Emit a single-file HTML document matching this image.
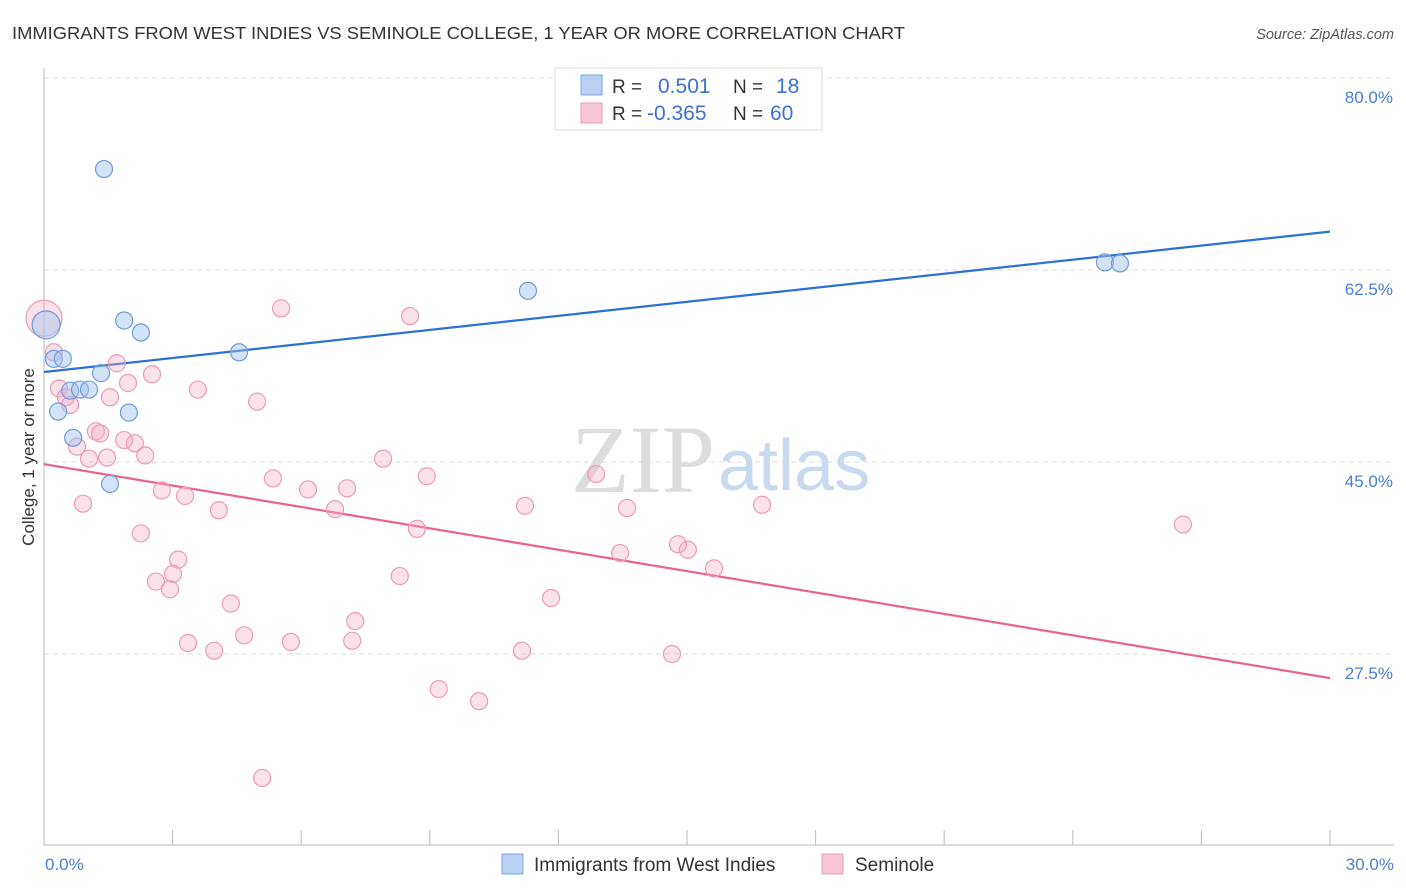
<!DOCTYPE html>
<html><head><meta charset="utf-8"><style>
body{margin:0;background:#fff;font-family:"Liberation Sans",sans-serif;}
svg{display:block}
</style></head><body>
<svg id="chart" width="1406" height="892" font-family="Liberation Sans, sans-serif">
<text x="12" y="39" font-size="17.5" fill="#333" textLength="893" lengthAdjust="spacingAndGlyphs">IMMIGRANTS FROM WEST INDIES VS SEMINOLE COLLEGE, 1 YEAR OR MORE CORRELATION CHART</text>
<text x="1394" y="39" font-size="14.5" fill="#555" font-style="italic" text-anchor="end">Source: ZipAtlas.com</text>
<g id="grid"></g>
<text x="715" y="492" font-size="96" fill="#ddd" font-family="Liberation Serif, serif" text-anchor="end">ZIP</text>
<text x="718" y="490" font-size="72" fill="#c9daf0">atlas</text>
<line x1="44" y1="68" x2="44" y2="845" stroke="#bbb"/>
<line x1="44" y1="845" x2="1394" y2="845" stroke="#bbb"/>
<g id="ticks"></g>
<g id="lines"></g>
<g id="points"></g>
<text transform="translate(34,457) rotate(-90)" font-size="17" fill="#333" text-anchor="middle">College, 1 year or more</text>
<text x="45" y="870" font-size="17" fill="#4a7fd4">0.0%</text>
<text x="1394" y="870" font-size="17" fill="#4a7fd4" text-anchor="end">30.0%</text>
<g>
<rect x="555" y="68" width="267" height="62" fill="#fff" stroke="#ddd"/>
<rect x="581" y="75" width="21" height="20" fill="#b8d1f3" stroke="#7ea7e0"/>
<rect x="581" y="103" width="21" height="20" fill="#f8c6d6" stroke="#ee9ab6"/>
<text x="612" y="93" font-size="19" fill="#333">R = </text><text x="658" y="93" font-size="21" fill="#3a73d1">0.501</text>
<text x="733" y="93" font-size="19" fill="#333">N = </text><text x="776" y="93" font-size="21" fill="#3a73d1">18</text>
<text x="612" y="120" font-size="19" fill="#333">R = </text><text x="647" y="120" font-size="21" fill="#3a73d1">-0.365</text>
<text x="733" y="120" font-size="19" fill="#333">N = </text><text x="770" y="120" font-size="21" fill="#3a73d1">60</text>
</g>
<g>
<rect x="502" y="854" width="21" height="20" fill="#b8d1f3" stroke="#7ea7e0"/>
<text x="534" y="871" font-size="19" fill="#333">Immigrants from West Indies</text>
<rect x="822" y="854" width="21" height="20" fill="#f8c6d6" stroke="#ee9ab6"/>
<text x="855" y="871" font-size="19" fill="#333">Seminole</text>
</g>
</svg>
<script>
const yTicks=[80,62.5,45,27.5];
const yTickLabels=["80.0%","62.5%","45.0%","27.5%"];
const xTicks=[0,3,6,9,12,15,18,21,24,27,30];
const blueX=[1.40,11.29,24.75,25.10,1.87,2.26,0.05,4.55,0.23,0.44,1.33,0.61,0.84,1.05,0.33,1.98,0.68,1.54];
const blueY=[71.7,60.6,63.2,63.1,57.9,56.8,57.5,55.0,54.4,54.4,53.1,51.5,51.6,51.6,49.6,49.5,47.2,43.0];
const pinkX=[0,0.23,0.35,0.51,0.61,1.70,1.96,1.54,2.52,3.59,4.97,5.53,8.54,1.21,1.31,1.87,2.12,0.77,1.05,1.47,2.36,2.75,3.29,4.08,0.91,2.26,3.13,3.01,2.61,2.94,4.36,3.36,3.97,4.67,5.76,7.26,7.19,5.34,6.16,7.07,6.79,7.91,8.93,8.70,8.30,9.21,10.15,5.09,11.22,11.83,11.15,12.88,13.60,13.44,14.79,15.02,15.63,14.65,16.75,26.57];
const pinkY=[58.1,55.0,51.7,50.9,50.2,54.0,52.2,50.9,53.0,51.6,50.5,59.0,58.3,47.8,47.6,47.0,46.7,46.4,45.3,45.4,45.6,42.4,41.9,40.6,41.2,38.5,36.1,34.8,34.1,33.4,32.1,28.5,27.8,29.2,28.6,30.5,28.7,43.5,42.5,42.6,40.7,45.3,43.7,38.9,34.6,24.3,23.2,16.2,41.0,32.6,27.8,43.9,40.8,36.7,37.5,37.0,35.3,27.5,41.1,39.3];
const blueTrend=[53.2,66.0];
const pinkTrend=[44.8,25.3];
const NS="http://www.w3.org/2000/svg";
const sx=v=>44+v/30*1286;
const sy=v=>78+(80-v)*10.971;
function mk(t,a,p){const e=document.createElementNS(NS,t);for(const k in a)e.setAttribute(k,a[k]);p.appendChild(e);return e;}
const grid=document.getElementById('grid');
yTicks.forEach((v,i)=>{
 const l=mk('line',{x1:44,x2:1394,y1:sy(v),y2:sy(v),stroke:'#ddd','stroke-dasharray':'5,4'},grid);
 
 
 const t=mk('text',{x:1393,y:sy(v)+25,'font-size':17,fill:'#4a7fd4','text-anchor':'end'},grid);
 t.textContent=yTickLabels[i];
 
 
});
const ticks=document.getElementById('ticks');
xTicks.forEach(v=>{
 const l=mk('line',{x1:sx(v),x2:sx(v),y1:830,y2:845,stroke:'#bbb'},ticks);
 
 
});
const lines=document.getElementById('lines');
const bl=mk('line',{x1:sx(0),y1:sy(blueTrend[0]),x2:sx(30),y2:sy(blueTrend[1]),stroke:'#2d6fd6','stroke-width':2.2},lines);


const pl=mk('line',{x1:sx(0),y1:sy(pinkTrend[0]),x2:sx(30),y2:sy(pinkTrend[1]),stroke:'#e9638f','stroke-width':2.2},lines);


const pts=document.getElementById('points');
pinkX.forEach((x,i)=>{
 const c=mk('circle',{cx:sx(x),cy:sy(pinkY[i]),r:i===0?18:8.5,fill:'rgba(244,168,194,0.35)',stroke:'#ef9ab8','stroke-width':1.2},pts);
 
 
});
blueX.forEach((x,i)=>{
 const c=mk('circle',{cx:sx(x),cy:sy(blueY[i]),r:i===6?14:8.5,fill:'rgba(160,196,240,0.45)',stroke:'#6f9bdc','stroke-width':1.2},pts);
 
 
});
</script>
</body></html>
